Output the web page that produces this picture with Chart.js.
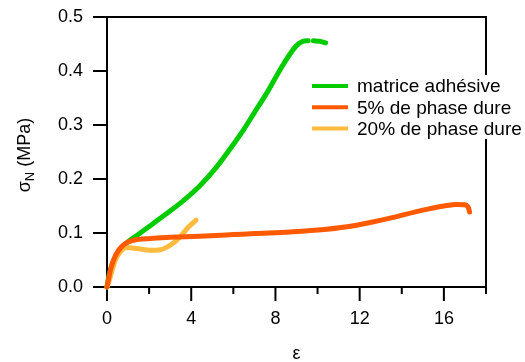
<!DOCTYPE html>
<html>
<head>
<meta charset="utf-8">
<script src="https://cdn.jsdelivr.net/npm/chart.js@4.4.1/dist/chart.umd.min.js"></script>
<style>
html, body { margin: 0; padding: 0; background: #fff; }
</style>
</head>
<body>
<canvas id="strainChart" width="525" height="362"></canvas>
<script>
const seriesLabels = ['matrice adhésive', '5% de phase dure', '20% de phase dure'];
const seriesColors = ['#00cc00', '#ff5a00', '#ffbb3d'];

// matrice adhésive (green), null = gap in the trace
const epsMatrice = [0, 0.1, 0.25, 0.5, 0.75, 1.0, 1.4, 2.0, 2.8, 3.6, 4.4, 5.2, 6.0, 6.5, 7.0, 7.6, 8.2, 8.7, 9.0, 9.3, 9.55, 9.68, 9.8, 10.1, 10.38];
const sigmaMatrice = [0, 0.022, 0.042, 0.062, 0.075, 0.084, 0.095, 0.112, 0.135, 0.159, 0.187, 0.222, 0.264, 0.292, 0.323, 0.36, 0.401, 0.432, 0.447, 0.455, 0.456, null, 0.456, 0.455, 0.452];

// 5% de phase dure (orange)
const eps5 = [0, 0.08, 0.16, 0.31, 0.55, 0.87, 1.26, 2.05, 3.0, 4.4, 6.0, 7.0, 8.7, 10.3, 11.85, 13.4, 15.0, 16.0, 16.6, 16.95, 17.15, 17.22];
const sigma5 = [0, 0.016, 0.031, 0.05, 0.068, 0.0805, 0.0866, 0.09, 0.092, 0.094, 0.097, 0.099, 0.102, 0.1065, 0.1145, 0.127, 0.1423, 0.150, 0.153, 0.1525, 0.148, 0.139];

// 20% de phase dure (light orange)
const eps20 = [0, 0.12, 0.24, 0.39, 0.63, 0.95, 1.42, 2.05, 2.53, 3.0, 3.47, 3.87, 4.23];
const sigma20 = [0, 0.014, 0.031, 0.0495, 0.065, 0.073, 0.0712, 0.068, 0.069, 0.0773, 0.0928, 0.111, 0.1237];

const xTickValues = [0, 4, 8, 12, 16];
const yTickValues = [0, 0.1, 0.2, 0.3, 0.4, 0.5];

const FONT = "'Liberation Sans', Arial, sans-serif";

function toPoints(xs, ys) {
    return xs.map((x, i) => ({ x: x, y: ys[i] }));
}

// box frame + outside ticks
const framePlugin = {
    id: 'frame',
    beforeDatasetsDraw(chart) {
        const { ctx, chartArea: a, scales: { x, y } } = chart;
        ctx.save();
        ctx.strokeStyle = '#000';
        ctx.lineWidth = 2;
        ctx.strokeRect(a.left, a.top, a.right - a.left, a.bottom - a.top);
        ctx.beginPath();
        for (let v = 0; v <= 18; v += 2) {
            const px = x.getPixelForValue(v);
            const len = xTickValues.includes(v) ? 14 : 7;
            ctx.moveTo(px, a.bottom);
            ctx.lineTo(px, a.bottom + len);
        }
        yTickValues.forEach(v => {
            const py = y.getPixelForValue(v);
            ctx.moveTo(a.left, py);
            ctx.lineTo(a.left - 14, py);
        });
        ctx.stroke();
        ctx.restore();
    }
};

// axis titles (y title needs a subscript) and the in-plot legend
const textPlugin = {
    id: 'texts',
    afterDraw(chart) {
        const { ctx, chartArea: a } = chart;
        ctx.save();
        ctx.fillStyle = '#000';

        // x title
        ctx.font = '18px ' + FONT;
        ctx.textAlign = 'center';
        ctx.textBaseline = 'middle';
        ctx.fillText('ε', (a.left + a.right) / 2, 354);

        // y title: σN (MPa)
        ctx.translate(24, 155);
        ctx.rotate(-Math.PI / 2);
        ctx.textAlign = 'left';
        ctx.textBaseline = 'alphabetic';
        const big = '18px ' + FONT, small = '13px ' + FONT;
        ctx.font = big;
        const wSig = ctx.measureText('σ').width;
        const wRest = ctx.measureText(' (MPa)').width;
        ctx.font = small;
        const wN = ctx.measureText('N').width;
        let cx = -(wSig + wN + wRest) / 2;
        ctx.font = big;
        ctx.fillText('σ', cx, 6);
        cx += wSig;
        ctx.font = small;
        ctx.fillText('N', cx, 10);
        cx += wN;
        ctx.font = big;
        ctx.fillText(' (MPa)', cx, 6);
        ctx.restore();

        // legend
        ctx.save();
        ctx.fillStyle = '#fff';
        ctx.fillRect(306, 75, 219, 64);
        ctx.font = '19px ' + FONT;
        ctx.textAlign = 'left';
        ctx.textBaseline = 'middle';
        chart.data.datasets.forEach((ds, i) => {
            const yy = 86 + i * 21.3;
            ctx.strokeStyle = ds.borderColor;
            ctx.lineWidth = 4;
            ctx.beginPath();
            ctx.moveTo(312, yy);
            ctx.lineTo(348, yy);
            ctx.stroke();
            ctx.fillStyle = '#000';
            ctx.fillText(ds.label, 357, yy + 1);
        });
        ctx.restore();
    }
};

const commonLine = {
    borderWidth: 5,
    pointRadius: 0,
    showLine: true,
    fill: false,
    cubicInterpolationMode: 'monotone',
    borderCapStyle: 'round',
    borderJoinStyle: 'round',
    spanGaps: false,
    clip: false
};

new Chart(document.getElementById('strainChart').getContext('2d'), {
    type: 'scatter',
    data: {
        datasets: [
            Object.assign({ label: seriesLabels[0], data: toPoints(epsMatrice, sigmaMatrice), borderColor: seriesColors[0], backgroundColor: seriesColors[0], order: 2 }, commonLine),
            Object.assign({ label: seriesLabels[1], data: toPoints(eps5, sigma5), borderColor: seriesColors[1], backgroundColor: seriesColors[1], order: 0 }, commonLine),
            Object.assign({ label: seriesLabels[2], data: toPoints(eps20, sigma20), borderColor: seriesColors[2], backgroundColor: seriesColors[2], order: 1 }, commonLine)
        ]
    },
    options: {
        responsive: false,
        animation: false,
        layout: { padding: { top: 17, right: 39, left: 0, bottom: 0 } },
        plugins: {
            legend: { display: false },
            tooltip: { enabled: false }
        },
        scales: {
            x: {
                type: 'linear',
                min: 0,
                max: 18,
                grid: { display: false, drawTicks: false },
                border: { display: false },
                afterFit: (scale) => { scale.height = 75; scale.paddingLeft = 0; scale.paddingRight = 0; },
                ticks: {
                    stepSize: 4,
                    includeBounds: false,
                    padding: 21,
                    color: '#000',
                    font: { family: FONT, size: 18 },
                    callback: (v) => xTickValues.includes(v) ? String(v) : ''
                }
            },
            y: {
                type: 'linear',
                min: 0,
                max: 0.5,
                grid: { display: false, drawTicks: false },
                border: { display: false },
                afterFit: (scale) => { scale.width = 107; scale.paddingTop = 0; scale.paddingBottom = 0; },
                ticks: {
                    stepSize: 0.1,
                    padding: 24,
                    color: '#000',
                    font: { family: FONT, size: 18 },
                    callback: (v) => Number(v).toFixed(1)
                }
            }
        }
    },
    plugins: [framePlugin, textPlugin]
});
</script>
</body>
</html>
